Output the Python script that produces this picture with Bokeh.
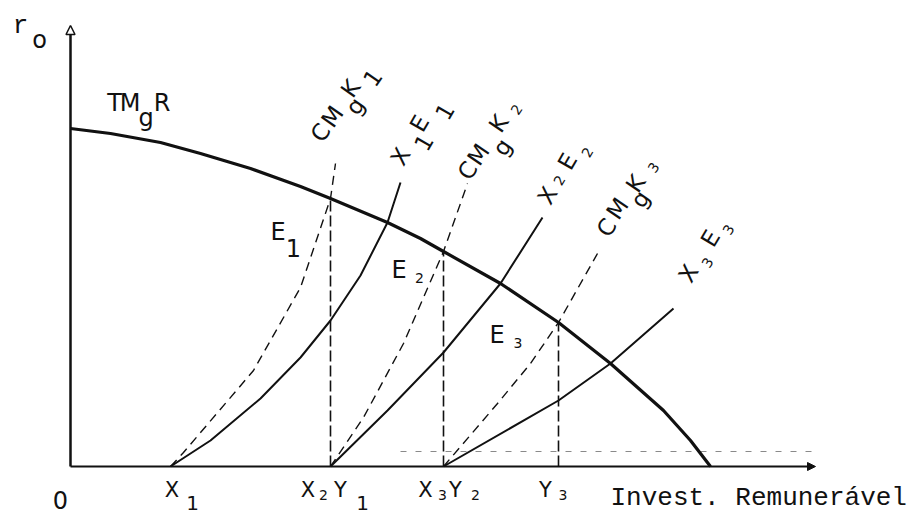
import math
from bokeh.plotting import figure
from bokeh.models import Range1d, Arrow, NormalHead
from bokeh.embed import file_html
from bokeh.resources import INLINE
from bokeh.core.properties import value

# ---------------- data (chart units; origin at the axes' corner) ----------------
# marginal revenue rate curve TMgR
tmgr_x = [0, 40, 90, 130, 180, 230, 260, 317, 350, 373, 430, 488, 540, 593, 620, 640]
tmgr_y = [338, 333, 324, 313, 298, 280, 268, 244, 228, 215, 183, 144, 103, 56, 26, 0]

# X1E1 (solid) and CMgK1 (dashed)
x1e1_x = [100, 140, 190, 230, 260, 290, 317, 330]
x1e1_y = [0, 26, 68, 109, 146, 191, 244, 284]
cmgk1_x = [100, 113, 183, 230, 260, 265]
cmgk1_y = [0, 14, 96, 179, 268, 303]

# X2E2 (solid) and CMgK2 (dashed)
x2e2_x = [260, 317, 373, 430, 472]
x2e2_y = [0, 56, 114, 183, 249]
cmgk2_x = [260, 293, 333, 373, 397]
cmgk2_y = [0, 49, 123, 215, 283]

# X3E3 (solid) and CMgK3 (dashed)
x3e3_x = [373, 488, 540, 603]
x3e3_y = [0, 66, 103, 158]
cmgk3_x = [373, 427, 460, 488, 527]
cmgk3_y = [0, 63, 103, 144, 213]

# equilibrium verticals Y1, Y2, Y3 (height = TMgR there)
eq_x = [260, 373, 488]
eq_top = [268, 215, 144]

# axes extents
y_axis_top = 441
x_axis_end = 745

# faint guide seen above the x axis (scan)
guide_x = [330, 745]
guide_y = [15, 15]

# ---------------- figure ----------------
W, H = 918, 515
p = figure(width=W, height=H, output_backend="svg", toolbar_location=None,
           x_range=Range1d(-70, 848), y_range=Range1d(-49, 466),
           x_axis_location=None, y_axis_location=None, min_border=0)
p.grid.visible = False
p.outline_line_color = None
p.background_fill_color = "white"
p.border_fill_color = "white"

INK = "#111111"

# axes with arrow heads
p.add_layout(Arrow(end=NormalHead(size=9, fill_color="white", line_color=INK, line_width=1.5),
                   x_start=0, y_start=0, x_end=0, y_end=y_axis_top,
                   line_width=2.5, line_color=INK))
p.add_layout(Arrow(end=NormalHead(size=8, fill_color=INK, line_color=INK, line_width=1),
                   x_start=0, y_start=0, x_end=x_axis_end, y_end=0,
                   line_width=2.2, line_color=INK))

p.line(guide_x, guide_y, line_color="#8a8a8a", line_width=1, line_dash="6 9")

# curves
p.line(tmgr_x, tmgr_y, line_color=INK, line_width=3.2, line_join="round")
for xs, ys in [(x1e1_x, x1e1_y), (x2e2_x, x2e2_y), (x3e3_x, x3e3_y)]:
    p.line(xs, ys, line_color=INK, line_width=2.0, line_join="round")
for xs, ys in [(cmgk1_x, cmgk1_y), (cmgk2_x, cmgk2_y), (cmgk3_x, cmgk3_y)]:
    p.line(xs, ys, line_color=INK, line_width=1.4, line_dash="9 6")
p.segment(x0=eq_x, y0=[0] * len(eq_x), x1=eq_x, y1=eq_top,
          line_color=INK, line_width=1.6, line_dash="11 4")

# ---------------- text (placed by glyph centre) ----------------
SANS = "DejaVu Sans"
MONO = "Liberation Mono"


def piece(ch, cx, cy, size, ang_deg=0.0, font=SANS, lower=0.0):
    """cx, cy: glyph centre in chart units; lower: shift of anchor for descender glyphs."""
    a = math.radians(ang_deg)
    ax = cx - lower * math.sin(a)
    ay = cy + lower * math.cos(a)
    p.text(x=[ax], y=[ay], text=[ch], angle=a,
           text_font=value(font), text_font_size=f"{size}px",
           text_align="center", text_baseline="middle", text_color=INK)


def P(px, py):
    return px - 70, 466 - py


def put(ch, px, py, size, ang=0.0, font=SANS, lower=0.0):
    x, y = P(px, py)
    piece(ch, x, y, size, ang, font, lower)


# y axis label r_o and origin
put("r", 20, 25, 26, font=MONO)
put("o", 39, 41, 24, lower=2)
put("0", 60, 499, 24)

# x axis labels
put("X", 171.5, 489.5, 21); put("1", 192, 502, 20)
put("X", 307.5, 489.5, 21); put("2", 323, 494, 14)
put("Y", 340, 489.5, 21); put("1", 362, 502, 20)
put("X", 425, 489.5, 21); put("3", 442, 494, 14)
put("Y", 455, 489.5, 21); put("2", 475, 494, 14)
put("Y", 545, 489.5, 21); put("3", 562.5, 494, 14)
x0, y0 = P(610, 497)
p.text(x=[x0], y=[y0], text=["Invest. Remunerável"], text_font=value(MONO),
       text_font_size="26px", text_align="left", text_baseline="alphabetic", text_color=INK)

# TMgR
put("T", 114, 102.5, 24); put("M", 129.5, 102.5, 24)
put("g", 145.5, 121, 24, lower=4); put("R", 161.5, 102.5, 24)

# equilibrium points
put("E", 277.5, 231, 24); put("1", 293, 247.5, 24)
put("E", 398.5, 269, 24); put("2", 419, 277, 14)
put("E", 496.5, 334, 24); put("3", 517.5, 342, 14)

# rotated curve labels
A1 = 55
put("C", 320, 132, 23, A1); put("M", 332, 116, 23, A1)
put("g", 358, 108, 23, A1, lower=4); put("K", 350, 88, 23, A1); put("1", 372, 77, 23, A1)

B1 = 60
put("X", 400, 156, 23, B1); put("1", 423, 142, 23, B1)
put("E", 419, 123, 23, B1); put("1", 444, 111, 23, B1)

A2 = 56
put("C", 467, 170, 23, A2); put("M", 478, 154, 23, A2)
put("g", 505, 149, 23, A2, lower=4); put("K", 498, 123, 23, A2); put("2", 516, 109, 14, A2)

B2 = 60
put("X", 547, 195, 23, B2); put("2", 559, 180, 14, B2)
put("E", 567, 161, 23, B2); put("2", 587, 152, 14, B2)

A3 = 56
put("C", 606, 227, 23, A3); put("M", 617, 208, 23, A3)
put("g", 643, 201, 23, A3, lower=4); put("K", 635, 183, 23, A3); put("3", 653, 167, 14, A3)

B3 = 59
put("X", 688, 273, 23, B3); put("3", 707, 262, 14, B3)
put("E", 710, 238, 23, B3); put("3", 728, 229, 14, B3)

open("out.html", "w").write(file_html(p, INLINE))
